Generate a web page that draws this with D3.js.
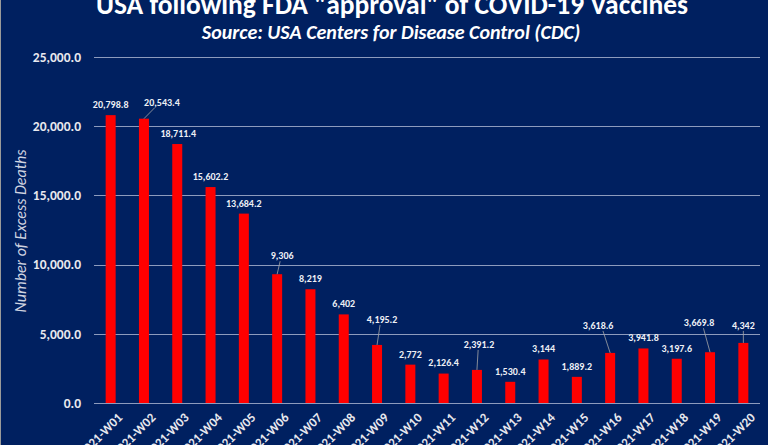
<!DOCTYPE html>
<html><head><meta charset="utf-8">
<script src="https://cdn.jsdelivr.net/npm/d3@7"></script>
<style>
html,body{margin:0;padding:0;background:#002060;}
svg{display:block;font-family:Carlito,Calibri,Lato,sans-serif;}
.ytick{font-size:13.5px;font-weight:bold;fill:#e8e8ee;font-family:Carlito,Calibri,Lato,sans-serif;}
</style></head>
<body><svg id="c" width="768" height="445"></svg>
<script>
const weeks = ["2021-W01","2021-W02","2021-W03","2021-W04","2021-W05","2021-W06","2021-W07","2021-W08","2021-W09","2021-W10","2021-W11","2021-W12","2021-W13","2021-W14","2021-W15","2021-W16","2021-W17","2021-W18","2021-W19","2021-W20"];
const excessDeaths = [20798.8,20543.4,18711.4,15602.2,13684.2,9306,8219,6402,4195.2,2772,2126.4,2391.2,1530.4,3144,1889.2,3618.6,3941.8,3197.6,3669.8,4342];
const valueLabels = ["20,798.8","20,543.4","18,711.4","15,602.2","13,684.2","9,306","8,219","6,402","4,195.2","2,772","2,126.4","2,391.2","1,530.4","3,144","1,889.2","3,618.6","3,941.8","3,197.6","3,669.8","4,342"];
const yTicks = [0,5000,10000,15000,20000,25000];

// label nudges (layout, px) and which labels have leader lines
const labelNudge = [[0,0],[18,-6],[1,0],[0,0],[0,0],[5,-8],[0,0],[0,0],[5,-15],[0,0],[0,-1],[2,-15],[0,0],[0,0],[0,0],[-12,-17],[0,0],[0,0],[-11,-19],[0,-7]];
const leader = [0,1,0,0,0,1,0,0,1,0,0,1,0,0,0,1,0,0,1,1];

const svg = d3.select("#c");
const W = 768, H = 445;
const m = {left:94, right:8, top:57, bottom:42};
const x = d3.scaleBand().domain(weeks).range([m.left, W - m.right]).paddingInner(0.7).paddingOuter(0.35);
const y = d3.scaleLinear().domain([0,25000]).range([H - m.bottom, m.top]);

svg.append("rect").attr("width",W).attr("height",H).attr("fill","#002060");
svg.append("line").attr("x1",0.5).attr("x2",0.5).attr("y1",0).attr("y2",H).attr("stroke","#9a9a9a");

// gridlines
svg.append("g").selectAll("line").data(yTicks).join("line")
  .attr("x1", m.left).attr("x2", W - m.right)
  .attr("y1", d => Math.round(y(d)) + 0.5).attr("y2", d => Math.round(y(d)) + 0.5)
  .attr("stroke", "#8d9bbd").attr("stroke-width", 1);

// y axis labels
const yAxis = d3.axisLeft(y).tickValues(yTicks).tickSize(0).tickPadding(13).tickFormat(d3.format(",.1f"));
const ya = svg.append("g").attr("transform", `translate(${m.left},0)`).call(yAxis);
ya.select(".domain").remove();
ya.attr("font-size",null).attr("font-family",null);
ya.selectAll("text").attr("class","ytick").attr("fill",null);

// bars
svg.append("g").selectAll("rect").data(excessDeaths).join("rect")
  .attr("x", (d,i) => x(weeks[i])).attr("width", x.bandwidth())
  .attr("y", d => y(d)).attr("height", d => y(0) - y(d))
  .attr("fill", "#ff0000");

// leader lines
const cx = i => x(weeks[i]) + x.bandwidth()/2;
svg.append("g").selectAll("line").data(d3.range(weeks.length).filter(i => leader[i])).join("line")
  .attr("x1", i => cx(i)).attr("y1", i => y(excessDeaths[i]))
  .attr("x2", i => cx(i) + labelNudge[i][0]*0.6)
  .attr("y2", i => y(excessDeaths[i]) - 5 + labelNudge[i][1])
  .attr("stroke", "#a6a6a6").attr("stroke-width", 0.8);

// value labels
svg.append("g").selectAll("text").data(excessDeaths).join("text")
  .attr("x", (d,i) => cx(i) + labelNudge[i][0])
  .attr("y", (d,i) => y(d) - 7 + labelNudge[i][1])
  .attr("text-anchor","middle").style("font-size","10px").style("font-weight","bold")
  .attr("fill","#eef0f6").text((d,i) => valueLabels[i]);

// x labels
svg.append("g").selectAll("text").data(weeks).join("text")
  .attr("transform", d => `translate(${x(d) + x.bandwidth()/2 + 6},${H - m.bottom + 9}) rotate(-45)`)
  .attr("text-anchor","end").attr("dy","0.7em")
  .style("font-size","13px").style("font-weight","bold").attr("fill","#e8e8ee").text(d => d);

// y title
svg.append("text").attr("transform","translate(26,231) rotate(-90)")
  .attr("text-anchor","middle").style("font-size","16px").style("font-style","italic")
  .attr("fill","#d0d4e0").text("Number of Excess Deaths");

// titles
svg.append("text").attr("x",392).attr("y",14).attr("text-anchor","middle")
  .style("font-size","27.5px").style("font-weight","bold").attr("fill","#ffffff")
  .text("USA following FDA \"approval\" of COVID-19 Vaccines");
svg.append("text").attr("x",391).attr("y",39).attr("text-anchor","middle")
  .style("font-size","20px").style("font-weight","bold").style("font-style","italic").attr("fill","#ffffff")
  .text("Source: USA Centers for Disease Control (CDC)");
</script></body></html>
